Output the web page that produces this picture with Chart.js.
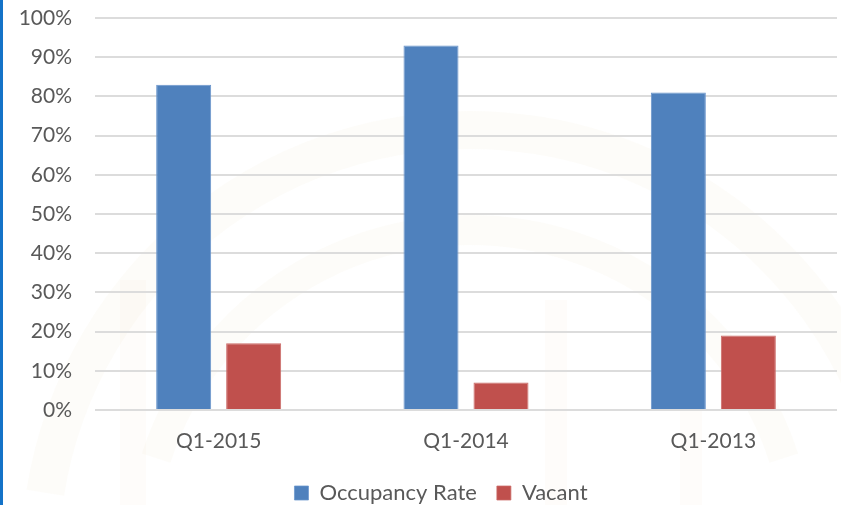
<!DOCTYPE html>
<html>
<head>
<meta charset="utf-8">
<script src="https://cdn.jsdelivr.net/npm/chart.js@4/dist/chart.umd.min.js"></script>
<style>
  html, body { margin: 0; padding: 0; background: #ffffff; }
  #wrap { position: relative; width: 841px; height: 505px; }
  #wrap::before { content: ""; position: absolute; left: 0; top: 0; width: 3px; height: 505px; background: #1473C8; z-index: 2; }
  canvas { display: block; }
</style>
</head>
<body>
<div id="wrap"><canvas id="c" width="841" height="505"></canvas></div>
<script>
const categories = ["Q1-2015", "Q1-2014", "Q1-2013"];
const occupancyRate = [83, 93, 81];
const vacant = [17, 7, 19];
const seriesNames = ["Occupancy Rate", "Vacant"];
const yTicks = [0, 10, 20, 30, 40, 50, 60, 70, 80, 90, 100];

const bgPlugin = {
  id: 'bg',
  beforeDraw(chart) {
    const ctx = chart.ctx;
    ctx.save();
    ctx.fillStyle = '#ffffff';
    ctx.fillRect(0, 0, chart.width, chart.height);
    // very faint watermark
    ctx.strokeStyle = 'rgba(236, 220, 190, 0.09)';
    ctx.lineWidth = 38;
    ctx.beginPath();
    ctx.arc(470, 560, 430, Math.PI * 1.05, Math.PI * 1.95);
    ctx.stroke();
    ctx.lineWidth = 30;
    ctx.beginPath();
    ctx.arc(470, 560, 330, Math.PI * 1.1, Math.PI * 1.9);
    ctx.stroke();
    ctx.fillStyle = 'rgba(236, 220, 190, 0.08)';
    ctx.fillRect(120, 280, 26, 225);
    ctx.fillRect(545, 300, 22, 205);
    ctx.fillRect(680, 280, 22, 225);
    ctx.restore();
  }
};

const legendShift = {
  id: 'legendShift',
  afterLayout(chart) {
    if (chart.legend) {
      chart.legend.left += 21;
      chart.legend.right += 21;
      if (chart.legend.legendHitBoxes) chart.legend.legendHitBoxes.forEach(b => { b.left += 21; });
    }
  }
};

new Chart(document.getElementById('c'), {
  type: 'bar',
  data: {
    labels: categories,
    datasets: [
      { label: seriesNames[0], data: occupancyRate, backgroundColor: '#4F81BD', borderColor: '#6a95cc', borderWidth: {left:1, right:1, top:1, bottom:0}, barPercentage: 0.786, categoryPercentage: 0.566 },
      { label: seriesNames[1], data: vacant, backgroundColor: '#C0504D', borderColor: '#cc6b68', borderWidth: {left:1, right:1, top:1, bottom:0}, barPercentage: 0.786, categoryPercentage: 0.566 }
    ]
  },
  options: {
    responsive: false,
    animation: false,
    layout: { padding: { left: 3, right: 4, top: 18, bottom: -9 } },
    plugins: {
      tooltip: { enabled: false },
      legend: {
        position: 'bottom',
        labels: {
          font: { family: 'Lato', size: 22 },
          color: '#595959',
          boxWidth: 14,
          boxHeight: 14,
          padding: 20,
          useBorderRadius: false
        }
      }
    },
    scales: {
      x: {
        grid: { display: false, drawTicks: false },
        border: { display: false },
        ticks: { font: { family: 'Lato', size: 21 }, color: '#595959', padding: 19 },
        afterFit(scale) { scale.height = 52; scale.paddingLeft = 0; scale.paddingRight = 0; }
      },
      y: {
        min: 0, max: 100,
        afterBuildTicks(scale) { scale.ticks = yTicks.map(v => ({ value: v })); },
        grid: { color: '#dcdcdc', lineWidth: 2, drawTicks: false },
        border: { display: false },
        ticks: { font: { family: 'Lato', size: 21 }, color: '#595959', padding: 23, callback: v => v + '%' },
        afterFit(scale) { scale.width = 92; scale.paddingTop = 0; scale.paddingBottom = 0; }
      }
    }
  },
  plugins: [bgPlugin, legendShift]
});
</script>
</body>
</html>
